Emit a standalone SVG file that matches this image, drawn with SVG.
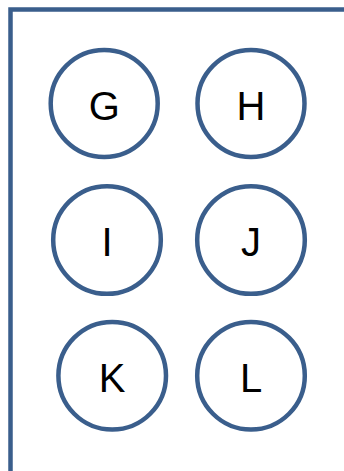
<svg xmlns="http://www.w3.org/2000/svg" width="344" height="471" viewBox="0 0 344 471">
<style>
.n{fill:#FFFFFF;stroke:#3A5E8C;stroke-width:4.5}
.t{font-family:"Liberation Sans",Arial,sans-serif;font-size:40px;fill:#000000;text-anchor:middle}
.f{fill:none;stroke:#3A5E8C;stroke-width:4.5}
</style>
<rect width="344" height="471" fill="#FFFFFF"/>
<g id="frame"><path class="f" d="M10.5 471 V9.5 H344"/></g>
<g id="connectors"></g>
<g id="G"><circle class="n" cx="104.2" cy="103.5" r="53.5"/><text class="t" x="104.2" y="119.5">G</text></g>
<g id="H"><circle class="n" cx="251" cy="103.5" r="53.5"/><text class="t" x="251" y="119.5">H</text></g>
<g id="I"><circle class="n" cx="107" cy="240" r="53.8"/><text class="t" x="107" y="256">I</text></g>
<g id="J"><circle class="n" cx="251" cy="240" r="53.8"/><text class="t" x="251" y="256">J</text></g>
<g id="K"><circle class="n" cx="112.2" cy="375.7" r="53.8"/><text class="t" x="112.2" y="391.5">K</text></g>
<g id="L"><circle class="n" cx="251" cy="375.7" r="53.8"/><text class="t" x="251" y="391.5">L</text></g>
</svg>
